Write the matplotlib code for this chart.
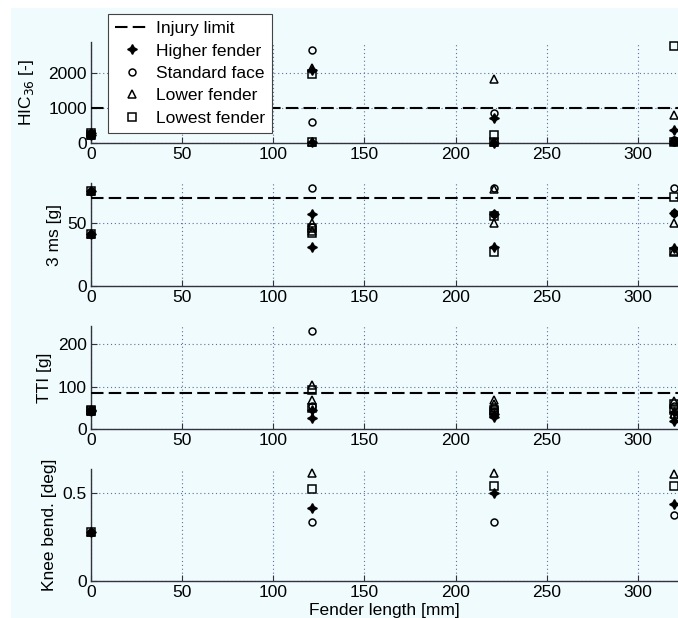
import matplotlib
matplotlib.use("Agg")
import matplotlib.pyplot as plt
from matplotlib.patches import Rectangle

plt.rcParams['font.family'] = ['Liberation Sans', 'DejaVu Sans']
plt.rcParams['font.size'] = 12.5

# fender length [mm]
lengths = [0, 121, 221, 320]

# two tests per configuration (panels 1-3), one for knee bending
hic_higher = [[300, 220], [2100, 20], [706, 10], [370, 60]]
hic_standard = [[300, 220], [2650, 590], [849, 30], [100, 20]]
hic_lower = [[300, 220], [2150, 20], [1829, 30], [800, 50]]
hic_lowest = [[300, 220], [1970, 20], [229, 40], [2770, 30]]

ms3_higher = [[76, 41], [57, 31], [57, 31], [58, 30]]
ms3_standard = [[76, 41], [78, 47], [78, 57], [78, 58]]
ms3_lower = [[76, 41], [50, 44], [77, 50], [50, 28]]
ms3_lowest = [[76, 41], [42, 46], [56, 27], [71, 27]]

tti_higher = [[46, 42], [45, 25], [35, 28], [40, 20]]
tti_standard = [[46, 42], [232, 55], [50, 40], [55, 30]]
tti_lower = [[46, 42], [104, 68], [69, 60], [65, 35]]
tti_lowest = [[46, 42], [92, 50], [45, 38], [60, 45]]

knee_higher = [[0.28], [0.418], [0.50], [0.44]]
knee_standard = [[0.28], [0.338], [0.338], [0.375]]
knee_lower = [[0.28], [0.614], [0.614], [0.61]]
knee_lowest = [[0.28], [0.525], [0.542], [0.54]]

limits = [1000, 70, 85, None]
ylabels = ['HIC$_{36}$ [-]', '3 ms [g]', 'TTI [g]', 'Knee bend. [deg]']
yticks = [[0, 1000, 2000], [0, 50], [0, 100, 200], [0, 0.5]]
ylims = [2886, 82, 243, 0.637]
series_labels = ['Higher fender', 'Standard face', 'Lower fender', 'Lowest fender']

panels = [
    [hic_higher, hic_standard, hic_lower, hic_lowest],
    [ms3_higher, ms3_standard, ms3_lower, ms3_lowest],
    [tti_higher, tti_standard, tti_lower, tti_lowest],
    [knee_higher, knee_standard, knee_lower, knee_lowest],
]

styles = [
    dict(marker=(4, 1, 0), ms=7, mfc='black', mec='black', mew=1.0),
    dict(marker='o', ms=5, mfc='none', mec='black', mew=1.1),
    dict(marker='^', ms=6, mfc='none', mec='black', mew=1.1),
    dict(marker='s', ms=5.5, mfc='none', mec='black', mew=1.1),
]

W, H = 678, 618
# axes top / bottom in pixels
rows = [(42, 143), (183, 286), (326, 429), (469, 581)]
left = 91
labelpads = [9, 4, 4, 4]

fig = plt.figure(figsize=(W / 100, H / 100), dpi=100, facecolor='white')
fig.add_artist(Rectangle((11 / W, 0), 1, 1 - 8 / H, transform=fig.transFigure,
                         facecolor='#effbfc', edgecolor='none', zorder=-10))

axes = []
for i, (top, bot) in enumerate(rows):
    ax = fig.add_axes([left / W, 1 - bot / H, (W - left) / W, (bot - top) / H])
    ax.set_facecolor('none')
    ax.set_xlim(0, 322)
    ax.set_ylim(0, ylims[i])
    ax.set_xticks([0, 50, 100, 150, 200, 250, 300])
    ax.set_yticks(yticks[i])
    ax.set_yticklabels([f'{t:g}' for t in yticks[i]])
    ax.grid(True, linestyle=(0, (1, 2.5)), color='#6070a0', linewidth=0.8)
    ax.tick_params(direction='in', length=4, width=0.8, colors='#333340',
                   labelcolor='black', pad=3)
    for s in ['top', 'right']:
        ax.spines[s].set_visible(False)
    for s in ['left', 'bottom']:
        ax.spines[s].set_color('#333340')
        ax.spines[s].set_linewidth(1.0)
    ax.set_ylabel(ylabels[i], labelpad=labelpads[i])

    if limits[i] is not None:
        line, = ax.plot([0, 322], [limits[i], limits[i]], color='black', lw=1.5,
                        label='Injury limit', zorder=3)
        line.set_dashes((6, 2.5))

    for vals, st, lab in zip(panels[i], styles, series_labels):
        xs, ys = [], []
        for x, v in zip(lengths, vals):
            xs += [x] * len(v)
            ys += v
        ax.plot(xs, ys, linestyle='none', label=lab, clip_on=False, zorder=4, **st)
    axes.append(ax)

axes[-1].set_xlabel('Fender length [mm]', labelpad=2)

leg = axes[0].legend(loc='upper left', bbox_to_anchor=(108 / W, 1 - 14 / H),
                     bbox_transform=fig.transFigure, numpoints=1, fancybox=False,
                     framealpha=1, edgecolor='#444444', handlelength=2.0,
                     handletextpad=0.35, labelspacing=0.42, borderpad=0.4,
                     borderaxespad=0)
leg.get_frame().set_linewidth(0.8)
leg.set_zorder(10)

fig.savefig('out.png', dpi=100)
